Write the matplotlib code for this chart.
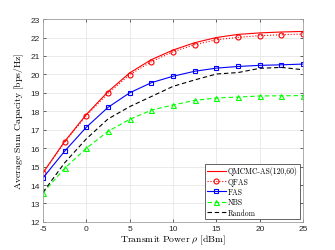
import matplotlib
matplotlib.use('Agg')
import matplotlib.pyplot as plt

plt.rcParams['mathtext.fontset'] = 'cm'
plt.rcParams['font.family'] = ['Liberation Sans', 'DejaVu Sans']

# transmit power grid (dBm)
power = [-5, -2.5, 0, 2.5, 5, 7.5, 10, 12.5, 15, 17.5, 20, 22.5, 25]

qmcmc = [14.65, 16.36, 17.82, 19.06, 20.08, 20.8, 21.32, 21.72, 22.0, 22.17, 22.25, 22.3, 22.33]
qfas = [14.65, 16.32, 17.76, 18.97, 19.98, 20.69, 21.23, 21.61, 21.88, 22.01, 22.1, 22.15, 22.19]
fas = [14.38, 15.83, 17.13, 18.21, 19.0, 19.55, 19.9, 20.17, 20.34, 20.43, 20.49, 20.52, 20.56]
nbs = [13.57, 14.9, 15.99, 16.91, 17.56, 18.06, 18.34, 18.59, 18.72, 18.77, 18.83, 18.84, 18.85]
rnd = [13.6, 15.2, 16.5, 17.58, 18.25, 18.8, 19.35, 19.7, 20.02, 20.1, 20.33, 20.38, 20.25]

fig = plt.figure(figsize=(3.35, 2.51), dpi=100)
ax = fig.add_axes([0.128, 0.112, 0.777, 0.808])

lw = 0.8
ms = 3.6
ax.plot(power, qmcmc, '-', color='red', lw=lw, label='QMCMC-AS(120,60)')
ax.plot(power, qfas, ':', color='red', lw=lw, marker='o', ms=ms, mfc='none', mew=0.8, label='QFAS')
ax.plot(power, fas, '-', color='blue', lw=lw, marker='s', ms=ms - 0.4, mfc='none', mew=0.8, label='FAS')
ax.plot(power, nbs, '--', color=(0, 1, 0), lw=lw, marker='^', ms=ms, mfc='none', mew=0.8,
        dashes=(4, 2.5), label='NBS')
ax.plot(power, rnd, '--', color='black', lw=lw, dashes=(4, 2.5), label='Random')

ax.set_xlim(-5, 25)
ax.set_ylim(12, 23)
ax.set_xticks(range(-5, 26, 5))
ax.set_yticks(range(12, 24))
ax.grid(True, color='#e6e6e6', lw=0.6)
ax.set_axisbelow(True)
ax.tick_params(direction='in', length=2.5, width=0.5, labelsize=6, colors='#262626',
               top=True, right=True, pad=2)
ax.set_xticklabels(['-5', '0', '5', '10', '15', '20', '25'])
for s in ax.spines.values():
    s.set_color('#a0a0a0')
    s.set_linewidth(0.6)

ax.set_xlabel(r'$\mathrm{Transmit\ Power}\ \rho\ \mathrm{[dBm]}$', fontsize=7, labelpad=1)
ax.set_ylabel(r'$\mathrm{Average\ Sum\ Capacity\ [bps/Hz]}$', fontsize=7, labelpad=3)

leg = ax.legend(loc='lower right', prop={'family': 'cmr10', 'size': 5.5},
                fancybox=False, edgecolor='#262626', framealpha=1,
                handlelength=2.4, handletextpad=0.3, labelspacing=0.25,
                borderpad=0.3, borderaxespad=0.4)
leg.get_frame().set_linewidth(0.5)

fig.savefig('out.png', dpi=100)
